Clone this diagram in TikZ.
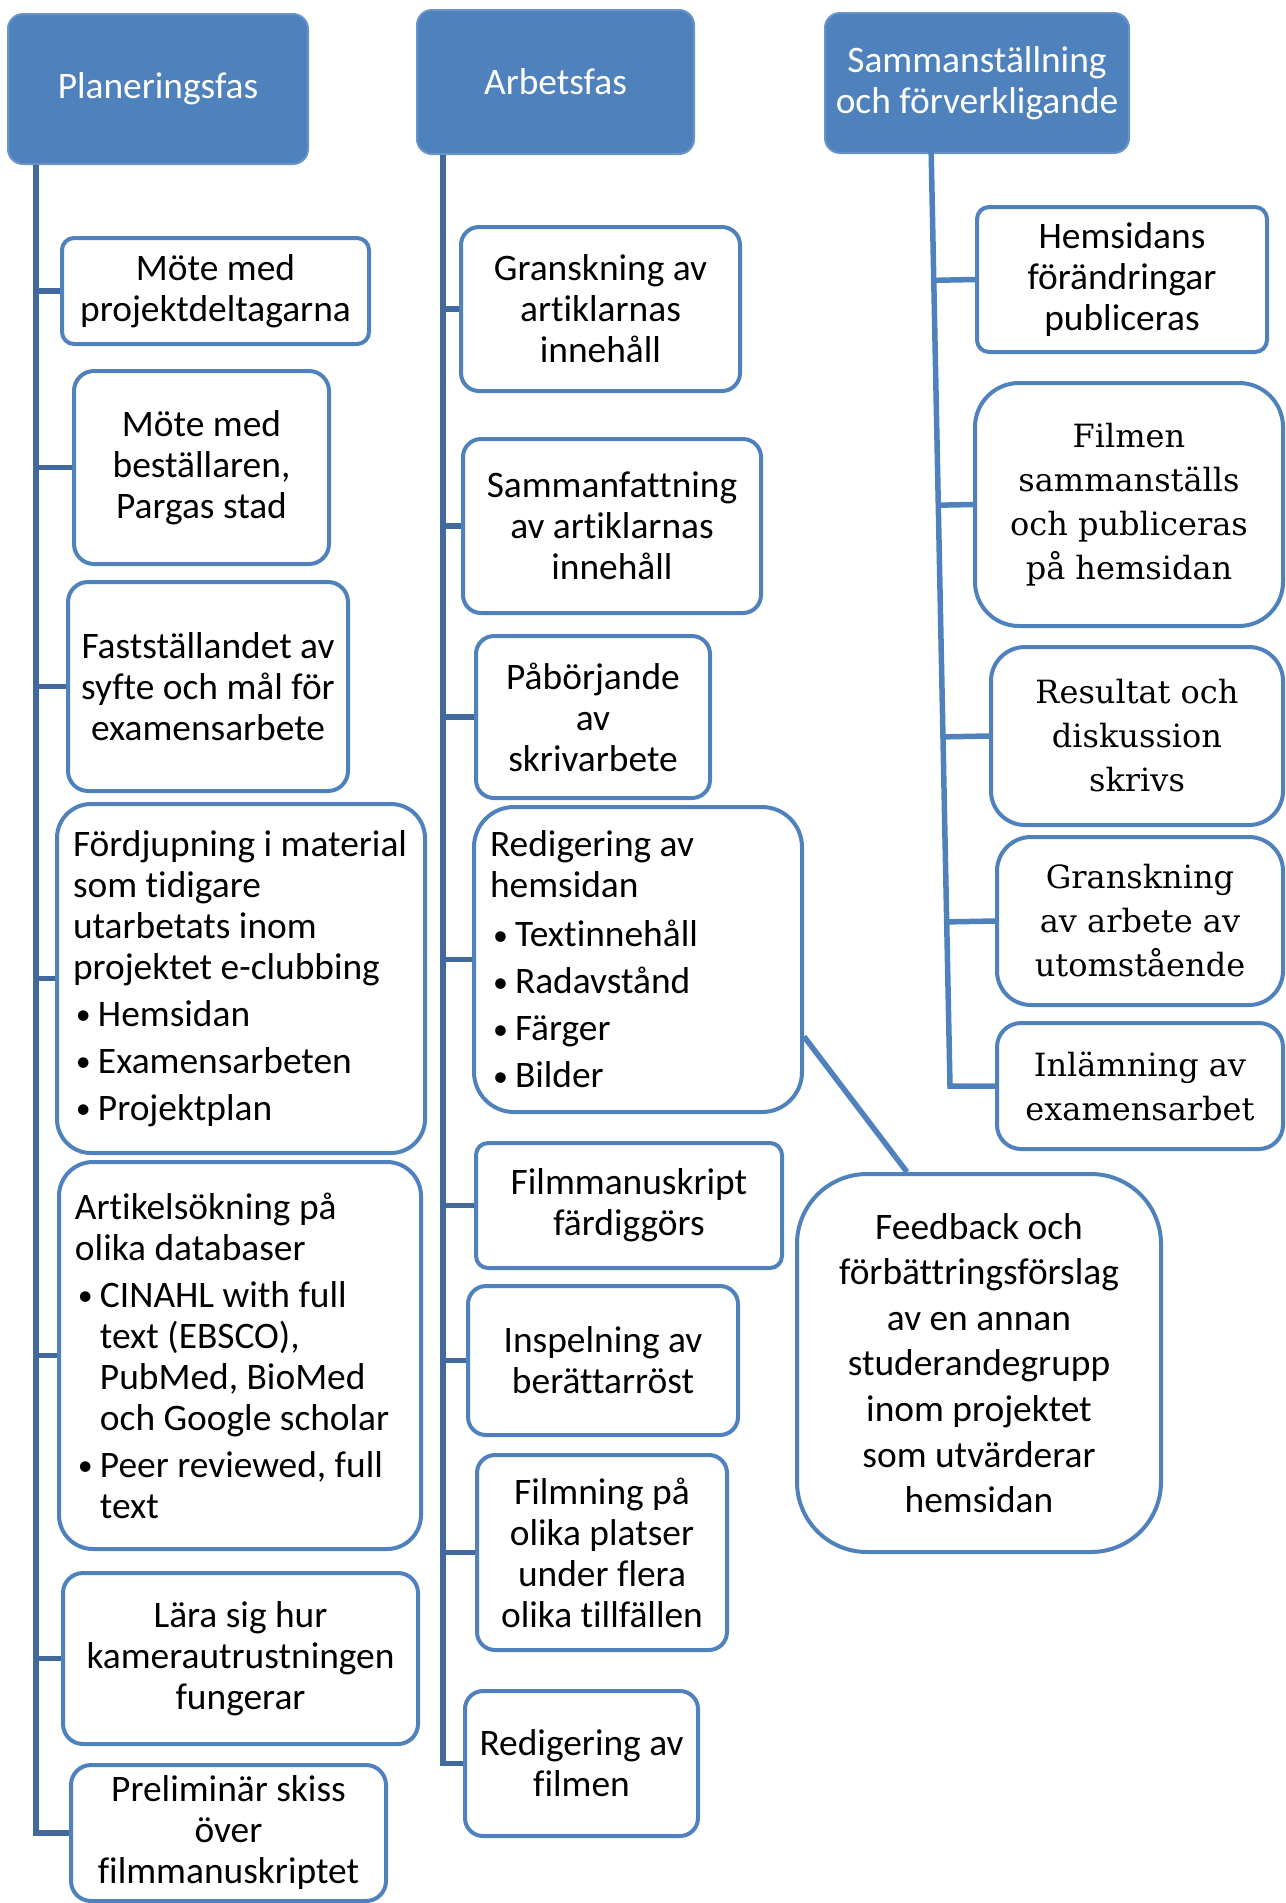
\documentclass[tikz,border=0pt]{standalone}
\usepackage{fontspec}
\setmainfont{Carlito}[Ligatures={NoCommon}]
\newfontfamily\serifboxfont{DejaVu Serif}
\usetikzlibrary{calc}

\definecolor{hdrblue}{HTML}{4F81BD}
\definecolor{boxblue}{HTML}{4F81BD}
\definecolor{trunkblue}{HTML}{41699C}

\newcommand{\bul}{\makebox[12.5pt][l]{\hspace{1.5pt}\raisebox{0.8pt}{\scalebox{0.8}{\textbullet}}}}
\newcommand{\bulgap}{\hspace*{12.5pt}}
\newcommand{\natsp}{\spaceskip=0pt\xspaceskip=0pt\hyphenpenalty=10000\relax}

\begin{document}
\begin{tikzpicture}[x=0.5pt,y=-0.5pt,
    hdr/.style={rectangle,rounded corners=7.5pt,fill=hdrblue,draw=hdrblue!85!white,line width=1pt,
        text=white,align=center,inner sep=0pt,font=\fontsize{18.7pt}{20.5pt}\selectfont},
    box/.style={rectangle,rounded corners=6pt,draw=boxblue,line width=2pt,fill=white,
        align=center,inner sep=0pt,font=\fontsize{18.7pt}{20.5pt}\selectfont},
    listbox/.style={box,align=left,inner xsep=8pt},
    serifbox/.style={box,font=\fontsize{16pt}{22pt}\serifboxfont},
    trunk/.style={draw=trunkblue,line width=2.75pt},
    rtrunk/.style={draw=boxblue,line width=2.75pt}]

    \useasboundingbox (0,0) rectangle (1286,1903);

    % phases
    \node [hdr,minimum width=150pt,minimum height=75pt] (plan) at (158,89) {Planeringsfas};
    \node [hdr,minimum width=138.5pt,minimum height=72pt] (arb) at (555.5,82) {Arbetsfas};
    \node [hdr,minimum width=152pt,minimum height=70pt] (sam) at (977,83) {Sammanställning\\och förverkligande};

    % Planeringsfas
    \node [box,minimum width=153.5pt,minimum height=53pt] (m1) at (215.5,291) {Möte med\\projektdeltagarna};
    \node [box,rounded corners=10pt,minimum width=127.5pt,minimum height=96.5pt] (m2) at (201.5,467.5) {Möte med\\beställaren,\\Pargas stad};
    \node [box,rounded corners=10pt,minimum width=140pt,minimum height=104.5pt] (m3) at (208,686.5) {Fastställandet av\\syfte och mål för\\examensarbete};
    \node [listbox,rounded corners=17pt,text width=168pt,minimum height=174.5pt] (m4) at (241,978.5)
        {\natsp Fördjupning i material\\som tidigare\\utarbetats inom\\projektet e-clubbing\\[3pt]
         \bul Hemsidan\\[3pt]\bul Examensarbeten\\[3pt]\bul Projektplan};
    \node [listbox,rounded corners=17pt,text width=165pt,minimum height=193.5pt] (m5) at (240,1355.5)
        {\natsp Artikelsökning på\\olika databaser\\[3pt]
         \bul CINAHL with full\\\bulgap text (EBSCO),\\\bulgap PubMed, BioMed\\\bulgap och Google scholar\\[3pt]
         \bul Peer reviewed, full\\\bulgap text};
    \node [box,rounded corners=10pt,minimum width=177.5pt,minimum height=85.5pt] (m6) at (240.5,1658.5) {Lära sig hur\\kamerautrustningen\\fungerar};
    \node [box,rounded corners=10pt,minimum width=157.5pt,minimum height=68pt] (m7) at (228.5,1833) {Preliminär skiss\\över\\filmmanuskriptet};

    % Arbetsfas
    \node [box,rounded corners=9pt,minimum width=139.5pt,minimum height=82pt] (a1) at (600.5,309) {Granskning av\\artiklarnas\\innehåll};
    \node [box,rounded corners=9pt,minimum width=149pt,minimum height=87pt] (a2) at (612,526) {Sammanfattning\\av artiklarnas\\innehåll};
    \node [box,rounded corners=9pt,minimum width=117pt,minimum height=81pt] (a3) at (593,717) {Påbörjande\\av\\skrivarbete};
    \node [listbox,rounded corners=20pt,text width=148pt,minimum height=152.5pt] (a4) at (638,959.5)
        {\natsp Redigering av\\hemsidan\\[4pt]
         \bul Textinnehåll\\[3pt]\bul Radavstånd\\[3pt]\bul Färger\\[3pt]\bul Bilder};
    \node [box,minimum width=153pt,minimum height=62.5pt] (a5) at (629,1205.5) {Filmmanuskript\\färdiggörs};
    \node [box,rounded corners=9pt,minimum width=135pt,minimum height=74.5pt] (a6) at (603,1360.5) {Inspelning av\\berättarröst};
    \node [box,rounded corners=9pt,minimum width=125pt,minimum height=97.5pt] (a7) at (602,1552.5) {Filmning på\\olika platser\\under flera\\olika tillfällen};
    \node [box,rounded corners=9pt,minimum width=116.5pt,minimum height=72.5pt] (a8) at (581.5,1763.5) {Redigering av\\filmen};

    % Sammanstallning
    \node [box,minimum width=145pt,minimum height=72.5pt] (r1) at (1122,279.5) {Hemsidans\\förändringar\\publiceras};
    \node [serifbox,rounded corners=22pt,minimum width=154pt,minimum height=121.5pt] (r2) at (1129,504.5) {Filmen\\sammanställs\\och publiceras\\på hemsidan};
    \node [serifbox,rounded corners=17pt,minimum width=146pt,minimum height=89pt] (r3) at (1137,736) {Resultat och\\diskussion\\skrivs};
    \node [serifbox,rounded corners=17pt,minimum width=143pt,minimum height=84pt] (r4) at (1140,921) {Granskning\\av arbete av\\utomstående};
    \node [serifbox,rounded corners=12pt,minimum width=143pt,minimum height=63pt] (r5) at (1140,1086) {Inlämning av\\examensarbet};

    \node [box,rounded corners=35pt,minimum width=182pt,minimum height=189pt,
        font=\fontsize{18.7pt}{22.8pt}\selectfont] (fb) at (979,1363)
        {Feedback och\\förbättringsförslag\\av en annan\\studerandegrupp\\inom projektet\\som utvärderar\\hemsidan};

    % trunks
    \coordinate (ltop) at (36,0);
    \coordinate (mtop) at (443,0);
    \coordinate (rtop) at (931,143);
    \coordinate (rbot) at (950,1086);

    \draw [trunk] (plan.south -| ltop) |- (m7.west);
    \foreach \n in {m1,m2,m3,m4,m5,m6}{%
        \draw [trunk] (\n.west -| ltop) -- (\n.west);
    }
    \draw [trunk] (arb.south -| mtop) |- (a8.west);
    \foreach \n in {a1,a2,a3,a4,a5,a6,a7}{%
        \draw [trunk] (\n.west -| mtop) -- (\n.west);
    }
    \draw [rtrunk] (rtop) -- (rbot) -- (r5.west);
    \foreach \n in {r1,r2,r3,r4}{%
        \draw [rtrunk] ($(rtop)!(\n.west)!(rbot)$) -- (\n.west);
    }

    \draw [rtrunk] ([yshift=-38.5pt]a4.east) -- ([xshift=-36pt]fb.north);

\end{tikzpicture}
\end{document}
